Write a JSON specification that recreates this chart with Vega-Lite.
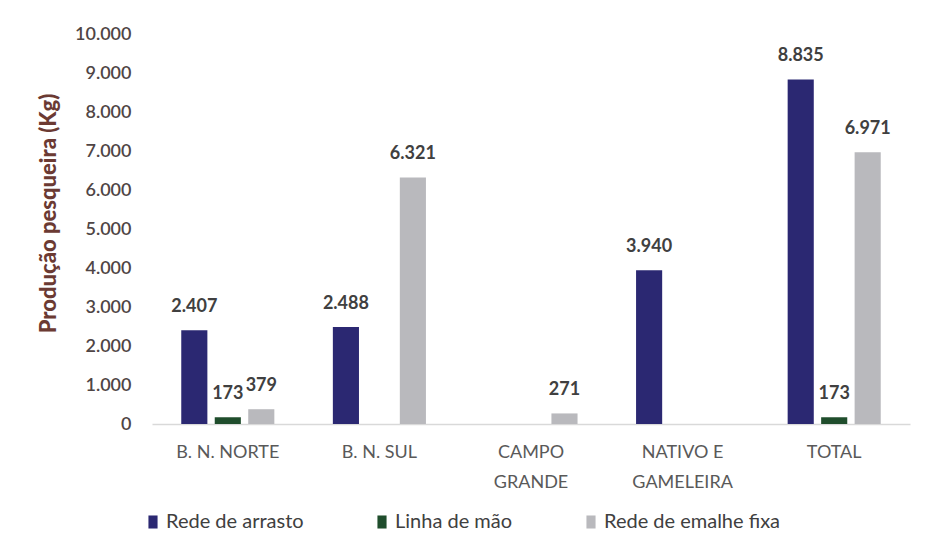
{
  "$schema": "https://vega.github.io/schema/vega-lite/v6.json",
  "width": 758,
  "height": 390,
  "autosize": {"type": "none"},
  "padding": {"left": 152, "top": 34, "right": 17, "bottom": 129},
  "background": "#ffffff",
  "config": {
    "locale": {"number": {"decimal": ",", "thousands": ".", "grouping": [3], "currency": ["R$", ""]}},
    "view": {"stroke": null},
    "font": "Lato, sans-serif"
  },
  "data": {
    "values": [
      {"local": "B. N. NORTE", "arte": "Rede de arrasto", "kg": 2407},
      {"local": "B. N. NORTE", "arte": "Linha de mão", "kg": 173},
      {"local": "B. N. NORTE", "arte": "Rede de emalhe fixa", "kg": 379},
      {"local": "B. N. SUL", "arte": "Rede de arrasto", "kg": 2488},
      {"local": "B. N. SUL", "arte": "Rede de emalhe fixa", "kg": 6321},
      {"local": "CAMPO GRANDE", "arte": "Rede de emalhe fixa", "kg": 271},
      {"local": "NATIVO E GAMELEIRA", "arte": "Rede de arrasto", "kg": 3940},
      {"local": "TOTAL", "arte": "Rede de arrasto", "kg": 8835},
      {"local": "TOTAL", "arte": "Linha de mão", "kg": 173},
      {"local": "TOTAL", "arte": "Rede de emalhe fixa", "kg": 6971}
    ]
  },
  "encoding": {
    "x": {
      "field": "local", "type": "nominal",
      "sort": ["B. N. NORTE", "B. N. SUL", "CAMPO GRANDE", "NATIVO E GAMELEIRA", "TOTAL"],
      "scale": {"paddingInner": 0.386, "paddingOuter": 0.193},
      "axis": {
        "title": null, "labelAngle": 0, "ticks": false,
        "domainColor": "#d9d9d9", "domainWidth": 1.5,
        "labelFontSize": 18, "labelColor": "#595959", "labelPadding": 19,
        "labelLineHeight": 30,
        "labelExpr": "datum.label == 'CAMPO GRANDE' ? ['CAMPO', 'GRANDE'] : datum.label == 'NATIVO E GAMELEIRA' ? ['NATIVO E', 'GAMELEIRA'] : datum.label"
      }
    },
    "xOffset": {
      "field": "arte", "type": "nominal",
      "sort": ["Rede de arrasto", "Linha de mão", "Rede de emalhe fixa"],
      "scale": {"paddingInner": 0.22, "paddingOuter": 0}
    },
    "y": {
      "field": "kg", "type": "quantitative",
      "scale": {"domain": [0, 10000]},
      "axis": {
        "title": "Produção pesqueira (Kg)",
        "values": [0, 1000, 2000, 3000, 4000, 5000, 6000, 7000, 8000, 9000, 10000],
        "format": ",d", "grid": false, "ticks": false, "domain": false,
        "labelFontSize": 18, "labelColor": "#4f4545", "labelPadding": 21, "labelFontWeight": 600,
        "titleFontSize": 22, "titleColor": "#6b3a33", "titleFontWeight": 900,
        "titleBaseline": "middle", "titleX": -104, "titleY": 179
      }
    }
  },
  "layer": [
    {
      "mark": {"type": "bar"},
      "encoding": {
        "color": {
          "field": "arte", "type": "nominal",
          "sort": ["Rede de arrasto", "Linha de mão", "Rede de emalhe fixa"],
          "scale": {"domain": ["Rede de arrasto", "Linha de mão", "Rede de emalhe fixa"], "range": ["#2b2872", "#1f4d2c", "#b9b9bd"]},
          "legend": {
            "title": null, "orient": "none", "direction": "horizontal",
            "legendX": -9, "legendY": 478,
            "symbolType": "M-0.7,-1L0.7,-1L0.7,1L-0.7,1Z", "symbolSize": 170, "symbolStrokeWidth": 0,
            "labelFontSize": 20, "labelColor": "#404040", "labelOffset": 3, "labelLimit": 400,
            "columnPadding": 68
          }
        }
      }
    },
    {
      "mark": {"type": "text", "baseline": "alphabetic", "dy": -18, "fontSize": 18, "fontWeight": "bold", "color": "#404040"},
      "encoding": {
        "text": {"field": "kg", "type": "quantitative", "format": ",d"}
      }
    }
  ]
}
